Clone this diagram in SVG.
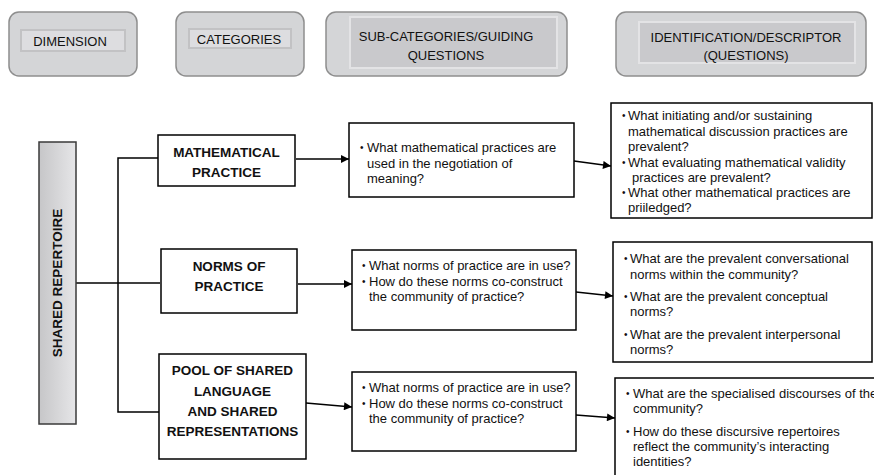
<svg xmlns="http://www.w3.org/2000/svg" width="874" height="475" viewBox="0 0 874 475">
  <style>
    .hdr { fill: #d4d5d7; stroke: #8e8e8e; stroke-width: 1.5; }
    .inLight { fill: #dddde0; stroke: #c2c2c4; stroke-width: 2; }
    .inDark { fill: #c9c9cc; stroke: #e3e3e5; stroke-width: 2; }
    .box { fill: #ffffff; stroke: #000000; stroke-width: 1.5; }
    .ht { font-family: "Liberation Sans", Arial, sans-serif; font-size: 13px; fill: #111; text-anchor: middle; }
    .cat { font-family: "Liberation Sans", Arial, sans-serif; font-size: 13.5px; font-weight: bold; fill: #111; text-anchor: middle; }
    .q { font-family: "Liberation Sans", Arial, sans-serif; font-size: 13px; fill: #111; }
    .bul { font-family: "Liberation Sans", Arial, sans-serif; font-size: 10px; fill: #111; }
    .ln { fill: none; stroke: #000; stroke-width: 1.5; }
  </style>
  <defs>
    <linearGradient id="barFill" x1="0" y1="0" x2="1" y2="0">
      <stop offset="0" stop-color="#c6c6c8"/>
      <stop offset="1" stop-color="#e6e6e8"/>
    </linearGradient>
    <marker id="arr" viewBox="0 0 10 10" refX="10" refY="5" markerWidth="9" markerHeight="8" markerUnits="userSpaceOnUse" orient="auto">
      <path d="M0,0 L10,5 L0,10 Z" fill="#000"/>
    </marker>
  </defs>

  <rect width="874" height="475" fill="#ffffff"/>

  <!-- column headers -->
  <g id="hdr-dimension">
    <rect class="hdr" x="9" y="12" width="128" height="64" rx="10"/>
    <rect class="inLight" x="21" y="30" width="104" height="21"/>
    <text class="ht" x="70" y="45.5">DIMENSION</text>
  </g>
  <g id="hdr-categories">
    <rect class="hdr" x="176" y="12" width="128" height="64" rx="10"/>
    <rect class="inLight" x="189" y="29" width="102" height="19"/>
    <text class="ht" x="239" y="44">CATEGORIES</text>
  </g>
  <g id="hdr-subcategories">
    <rect class="hdr" x="326" y="12" width="241" height="64" rx="10"/>
    <rect class="inDark" x="350" y="17" width="207" height="51"/>
    <text class="ht" x="446" y="40.5">SUB-CATEGORIES/GUIDING</text>
    <text class="ht" x="446" y="59.5">QUESTIONS</text>
  </g>
  <g id="hdr-identification">
    <rect class="hdr" x="616" y="12" width="250" height="64" rx="10"/>
    <rect class="inDark" x="639" y="22" width="216" height="41"/>
    <text class="ht" x="746" y="41.5">IDENTIFICATION/DESCRIPTOR</text>
    <text class="ht" x="746" y="59.5">(QUESTIONS)</text>
  </g>

  <!-- connectors -->
  <g id="connectors">
    <path class="ln" d="M76,283 H160"/>
    <path class="ln" d="M158,158 H118 V412 H159"/>
    <path class="ln" d="M296,159 H349" marker-end="url(#arr)"/>
    <path class="ln" d="M298,284 H352" marker-end="url(#arr)"/>
    <path class="ln" d="M306,403 L352,407" marker-end="url(#arr)"/>
    <path class="ln" d="M574,161 L611,166" marker-end="url(#arr)"/>
    <path class="ln" d="M576,292 L613,296" marker-end="url(#arr)"/>
    <path class="ln" d="M576,415 L615,418" marker-end="url(#arr)"/>
  </g>

  <!-- dimension -->
  <g id="shared-repertoire">
    <rect x="39" y="142" width="37" height="282" fill="url(#barFill)" stroke="#3a3a3a" stroke-width="1.5"/>
    <text class="cat" transform="translate(62,283) rotate(-90)">SHARED REPERTOIRE</text>
  </g>

  <!-- categories -->
  <g id="cat-mathematical">
    <rect class="box" x="158" y="135" width="137" height="51"/>
    <text class="cat" x="226.5" y="156.5">MATHEMATICAL</text>
    <text class="cat" x="226.5" y="176.5">PRACTICE</text>
  </g>
  <g id="cat-norms">
    <rect class="box" x="161" y="249" width="136" height="64"/>
    <text class="cat" x="229" y="270.5">NORMS OF</text>
    <text class="cat" x="229" y="290.5">PRACTICE</text>
  </g>
  <g id="cat-pool">
    <rect class="box" x="159" y="354" width="147" height="105"/>
    <text class="cat" x="232.5" y="374.5">POOL OF SHARED</text>
    <text class="cat" x="232.5" y="395.5">LANGUAGE</text>
    <text class="cat" x="232.5" y="415.5">AND SHARED</text>
    <text class="cat" x="232.5" y="435.5">REPRESENTATIONS</text>
  </g>

  <!-- guiding questions -->
  <g id="sub-mathematical">
    <rect class="box" x="349" y="123" width="225" height="74"/>
    <text class="bul" x="360" y="150.5">•</text>
    <text class="q" x="367" y="151.5">What mathematical practices are</text>
    <text class="q" x="367" y="167.5">used in the negotiation of</text>
    <text class="q" x="367" y="182.5">meaning?</text>
  </g>
  <g id="sub-norms">
    <rect class="box" x="352" y="250" width="224" height="80"/>
    <text class="bul" x="362" y="269">•</text>
    <text class="q" x="369" y="270">What norms of practice are in use?</text>
    <text class="bul" x="362" y="285">•</text>
    <text class="q" x="369" y="286">How do these norms co-construct</text>
    <text class="q" x="369" y="301">the community of practice?</text>
  </g>
  <g id="sub-pool">
    <rect class="box" x="352" y="372" width="224" height="79"/>
    <text class="bul" x="362" y="391">•</text>
    <text class="q" x="369" y="392">What norms of practice are in use?</text>
    <text class="bul" x="362" y="407">•</text>
    <text class="q" x="369" y="408">How do these norms co-construct</text>
    <text class="q" x="369" y="423">the community of practice?</text>
  </g>

  <!-- descriptor questions -->
  <g id="desc-mathematical">
    <rect class="box" x="611" y="103" width="261" height="115"/>
    <text class="bul" x="622" y="118.5">•</text>
    <text class="q" x="628" y="119.5">What initiating and/or sustaining</text>
    <text class="q" x="628" y="135.5">mathematical discussion practices are</text>
    <text class="q" x="628" y="150.5">prevalent?</text>
    <text class="bul" x="622" y="165.5">•</text>
    <text class="q" x="628" y="166.5">What evaluating mathematical validity</text>
    <text class="q" x="632" y="181.5">practices are prevalent?</text>
    <text class="bul" x="622" y="195.5">•</text>
    <text class="q" x="628" y="196.5">What other mathematical practices are</text>
    <text class="q" x="628" y="211.5">priiledged?</text>
  </g>
  <g id="desc-norms">
    <rect class="box" x="613" y="242" width="259" height="120"/>
    <text class="bul" x="624" y="262">•</text>
    <text class="q" x="630" y="263">What are the prevalent conversational</text>
    <text class="q" x="630" y="278.5">norms within the community?</text>
    <text class="bul" x="624" y="300">•</text>
    <text class="q" x="630" y="301">What are the prevalent conceptual</text>
    <text class="q" x="630" y="316">norms?</text>
    <text class="bul" x="624" y="337.5">•</text>
    <text class="q" x="630" y="338.5">What are the prevalent interpersonal</text>
    <text class="q" x="630" y="354">norms?</text>
  </g>
  <g id="desc-pool">
    <rect class="box" x="615" y="378" width="262" height="105"/>
    <text class="bul" x="626" y="397">•</text>
    <text class="q" x="633" y="398">What are the specialised discourses of the</text>
    <text class="q" x="633" y="413">community?</text>
    <text class="bul" x="626" y="435">•</text>
    <text class="q" x="633" y="436">How do these discursive repertoires</text>
    <text class="q" x="633" y="451">reflect the community’s interacting</text>
    <text class="q" x="633" y="466">identities?</text>
  </g>
</svg>
